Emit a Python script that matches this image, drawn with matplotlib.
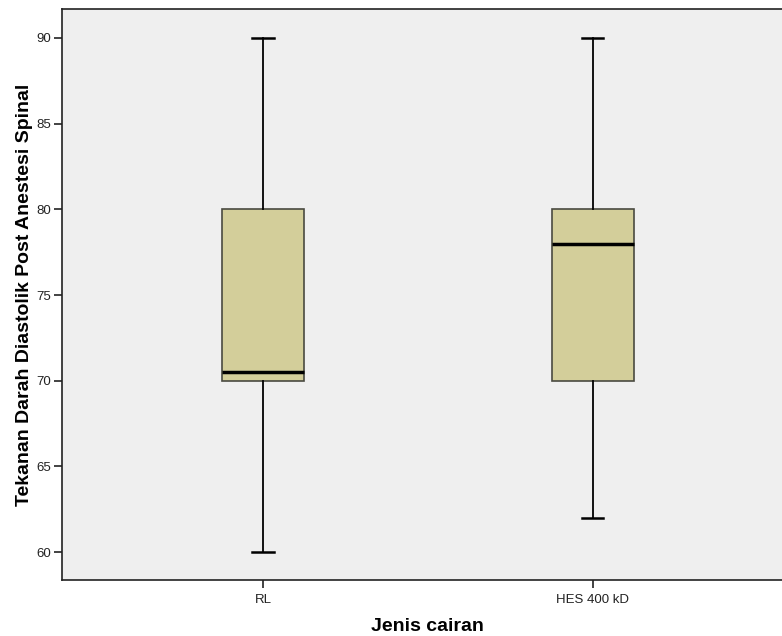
import matplotlib
matplotlib.use("Agg")
import matplotlib.pyplot as plt

groups = ["RL", "HES 400 kD"]
whisker_low = [60, 62]
q1 = [70, 70]
median = [70.5, 78]
q3 = [80, 80]
whisker_high = [90, 90]
yticks = [60, 65, 70, 75, 80, 85, 90]

plt.rcParams["font.family"] = ["Liberation Sans", "DejaVu Sans"]

fig = plt.figure(figsize=(7.82, 6.36), dpi=100)
ax = fig.add_axes([0.0793, 0.088, 0.9207, 0.8978])
ax.set_facecolor("#EFEFEF")

stats = []
for i, g in enumerate(groups):
    stats.append(dict(label=g, whislo=whisker_low[i], q1=q1[i], med=median[i],
                      q3=q3[i], whishi=whisker_high[i], fliers=[]))

positions = [1, 2]
ax.bxp(stats, positions=positions, widths=0.25, patch_artist=True,
       showfliers=False,
       boxprops=dict(facecolor="#D3CE9A", edgecolor="#4A4A40", linewidth=1.2),
       medianprops=dict(color="black", linewidth=2.5),
       whiskerprops=dict(color="black", linewidth=1.3),
       capprops=dict(color="black", linewidth=1.8),
       capwidths=0.064)

ax.set_xlim(0.391, 2.573)
ax.set_ylim(58.37, 91.69)
ax.set_yticks(yticks)
ax.set_xticks(positions)
ax.set_xticklabels(groups)

for s in ["left", "bottom", "top"]:
    ax.spines[s].set_linewidth(1.2)
    ax.spines[s].set_color("#222222")
ax.spines["right"].set_visible(False)

ax.tick_params(axis="both", direction="out", length=6, width=1.2,
               labelsize=9.5, colors="#222222", pad=2)
ax.tick_params(axis="x", pad=4)

ax.set_xlabel("Jenis cairan", fontsize=14, fontweight="bold", labelpad=9)
ax.xaxis.label.set_x(0.5076)
ax.set_ylabel("Tekanan Darah Diastolik Post Anestesi Spinal", fontsize=14,
              fontweight="bold", labelpad=2)

fig.savefig("out.png", dpi=100)
